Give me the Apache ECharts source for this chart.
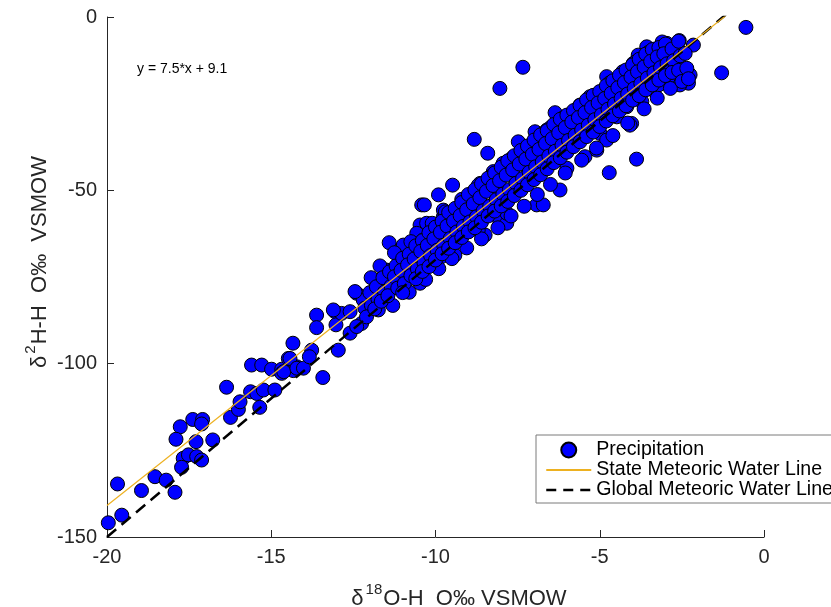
<!DOCTYPE html>
<html>
<head>
<meta charset="utf-8">
<script src="https://cdn.jsdelivr.net/npm/echarts@6/dist/echarts.min.js"></script>
<style>
  html, body { margin: 0; padding: 0; background: #fff; }
  #chart { width: 831px; height: 607px; }
</style>
</head>
<body>
<div id="chart"></div>
<script>
// Precipitation samples: [δ18O, δ2H] in ‰ VSMOW
const precipitation = [
  // most depleted samples
  [-19.96,-145.9],[-19.55,-143.7],[-19.68,-134.7],[-18.95,-136.6],[-18.54,-132.6],[-18.2,-133.6],
  [-17.93,-137.1],[-17.77,-118.2],[-17.9,-121.8],[-17.39,-116.1],[-17.09,-116.1],[-17.12,-117.4],
  [-17.29,-122.5],[-16.78,-122.0],[-17.68,-127.3],[-17.52,-126.3],[-17.27,-126.8],[-17.12,-127.8],
  [-17.73,-129.9],[-16.36,-106.8],[-16.24,-115.5],[-16.0,-113.2],[-15.95,-111.0],[-15.63,-108.1],
  [-15.44,-108.6],[-15.24,-107.6],[-14.89,-107.6],[-15.35,-112.6],[-15.6,-100.4],[-15.29,-100.4],
  [-14.99,-101.6],[-14.68,-101.6],[-14.68,-102.8],[-14.34,-94.1],[-14.48,-98.5],[-14.33,-102.0],
  [-14.22,-100.9],
  // -15 to -10 ‰
  [-14.62,-102.3],[-14.43,-98.5],[-14.22,-101.3],[-14.02,-101.3],[-13.77,-96.1],[-13.84,-98.0],
  [-12.96,-96.1],[-13.43,-104.0],[-13.62,-86.0],[-13.62,-89.6],[-13.06,-85.0],[-13.03,-88.8],
  [-12.86,-85.5],[-13.11,-84.5],[-12.60,-91.2],[-12.60,-85.0],[-12.40,-79.7],[-12.20,-81.6],
  [-12.15,-84.0],[-11.89,-83.1],[-11.74,-84.5],[-12.25,-88.4],[-12.40,-89.3],[-12.45,-79.2],
  [-11.96,-75.2],[-11.49,-73.0],[-11.54,-75.4],[-11.39,-75.9],[-11.18,-76.3],[-11.49,-78.7],
  [-11.64,-80.2],[-10.9,-78.7],[-10.52,-75.9],[-10.73,-74.4],[-11.03,-71.5],[-11.13,-68.7],
  [-10.83,-65.8],[-11.41,-65.1],[-10.57,-66.7],[-10.27,-70.1],[-10.47,-63.4],[-10.47,-60.0],
  [-9.96,-66.3],[-9.86,-64.3],[-9.76,-57.6],[-10.42,-54.2],[-11.69,-71.8],[-11.08,-67.2],
  // -11 to -6 ‰
  [-8.82,-35.3],[-8.41,-39.3],[-9.48,-48.5],[-9.91,-51.3],[-10.34,-54.2],[-7.48,-36.0],
  [-6.36,-27.6],[-6.21,-49.9],[-6.92,-54.2],[-6.72,-54.2],[-8.04,-59.0],[-8.49,-62.9],
  [-9.41,-68.7],[-9.81,-69.1],[-10.22,-70.6],[-10.88,-79.2],[-10.47,-76.8],[-11.08,-74.9],
  [-11.54,-76.8],[-7.63,-51.3],[-7.83,-59.5],[-6.92,-45.1],[-6.77,-36.9],[-7.53,-41.2],
  [-7.07,-38.9],[-8.24,-44.6],[-8.64,-48.0],[-9.05,-52.3],[-9.35,-56.6],[-9.76,-55.7],
  [-10.27,-59.5],[-10.57,-62.4],[-10.98,-65.8],[-10.37,-64.3],[-9.91,-62.4],[-9.46,-60.5],
  [-8.95,-58.6],[-8.85,-54.7],[-8.14,-50.9],[-7.94,-42.2],[-7.23,-46.1],[-5.85,-31.2],
  [-6.0,-43.6],[-8.7,-61.5],[-9.25,-64.3],[-6.97,-33.1],[-6.72,-33.6],[-5.75,-30.7],
  // most enriched samples
  [-7.34,-14.5],[-8.04,-20.6],[-3.88,-41.0],[-4.71,-44.9],[-5.45,-40.3],[-5.09,-38.4],
  [-4.79,-17.2],[-3.98,-13.4],[-3.57,-8.6],[-2.96,-7.6],[-4.03,-30.7],[-3.72,-24.4],
  [-3.37,-21.1],[-2.91,-18.7],[-5.6,-25.4],[-5.30,-23.0],[-4.69,-21.1],[-4.38,-19.1],
  [-5.70,-29.7],[-6.00,-32.6],[-6.61,-32.6],[-7.68,-40.8],[-4.99,-33.6],[-4.48,-28.8],
  [-4.18,-25.9],[-6.21,-38.4],[-6.82,-39.3],[-6.51,-42.2],[-7.43,-47.0],[-7.02,-45.1],
  [-7.83,-56.6],[-0.55,-3.0],[-1.29,-16.1],[-2.58,-6.8],[-2.15,-8.1],[-3.83,-11.0],
  [-3.37,-9.3],[-2.30,-19.1],[-2.25,-16.7],[-2.56,-19.6],[-3.21,-19.6],[-4.08,-31.2],
  [-2.66,-12.4],[-2.96,-13.8],[-4.38,-23.9],[-4.79,-35.5],
  // upper fringe of the cloud
  [-11.25,-68.0],[-10.75,-64.8],[-10.1,-59.5],[-9.7,-56.2],[-9.2,-52.6],[-8.7,-48.6],
  [-8.3,-45.9],[-7.75,-41.8],[-7.3,-38.2],[-6.9,-35.4],[-6.5,-31.9],[-6.1,-29.0],
  [-5.65,-26.1],[-5.2,-22.8],[-4.7,-19.0],[-4.3,-15.8],[-3.9,-12.9],[-3.5,-10.1],
  [-3.1,-7.2],
  // lower fringe of the cloud
  [-11.3,-83.2],[-10.8,-79.4],[-10.3,-75.7],[-9.9,-72.6],[-9.5,-69.7],[-9.05,-66.6],
  [-8.6,-64.0],[-8.1,-60.8],[-7.7,-57.4],[-7.3,-54.6],[-6.9,-51.2],[-6.5,-48.3],
  [-6.05,-45.0],[-5.55,-41.3],[-5.1,-37.8],[-4.6,-34.2],[-4.15,-30.6],[-3.65,-26.5],
  [-3.25,-23.4],[-2.85,-20.6],
  // dense core of the cloud
  [-12.0,-79.5],[-11.95,-83.2],[-12.1,-86.5],[-11.8,-77.8],[-11.75,-81.5],[-11.85,-84.2],
  [-11.6,-75.2],[-11.55,-79.3],[-11.65,-82.0],[-11.4,-73.5],[-11.35,-77.6],[-11.45,-80.4],
  [-11.2,-71.8],[-11.25,-74.9],[-11.15,-78.2],[-11.0,-69.6],[-11.05,-73.1],[-10.95,-76.9],
  [-11.0,-79.5],[-10.8,-68.4],[-10.85,-71.5],[-10.75,-74.6],[-10.6,-66.0],[-10.65,-69.8],
  [-10.55,-72.7],[-10.6,-75.5],[-10.4,-64.5],[-10.45,-67.6],[-10.35,-71.0],[-10.4,-73.4],
  [-10.2,-62.2],[-10.25,-65.9],[-10.15,-68.8],[-10.2,-72.0],[-10.0,-60.6],[-10.05,-64.0],
  [-9.95,-67.3],[-10.0,-70.1],[-9.8,-58.9],[-9.85,-62.1],[-9.75,-65.8],[-9.8,-68.3],
  [-9.6,-56.4],[-9.65,-60.3],[-9.55,-63.9],[-9.6,-66.7],[-9.4,-55.2],[-9.45,-58.9],
  [-9.35,-62.0],[-9.4,-65.1],[-9.2,-53.5],[-9.25,-57.3],[-9.15,-60.4],[-9.2,-63.6],
  [-9.0,-51.2],[-9.05,-55.6],[-8.95,-59.1],[-9.0,-62.0],[-8.8,-49.8],[-8.85,-53.9],
  [-8.75,-57.6],[-8.8,-60.8],[-8.6,-48.1],[-8.65,-52.1],[-8.55,-55.9],[-8.6,-59.2],
  [-8.4,-46.5],[-8.45,-50.3],[-8.35,-54.6],[-8.4,-57.4],[-8.2,-45.0],[-8.25,-48.6],
  [-8.15,-52.7],[-8.2,-56.0],[-8.0,-43.3],[-8.05,-47.2],[-7.95,-51.1],[-8.0,-54.5],
  [-7.8,-41.5],[-7.85,-45.6],[-7.75,-49.8],[-7.8,-53.2],[-7.6,-40.0],[-7.65,-44.1],
  [-7.55,-48.0],[-7.6,-51.5],[-7.4,-38.5],[-7.45,-42.4],[-7.35,-46.6],[-7.4,-50.0],
  [-7.2,-37.2],[-7.25,-41.0],[-7.15,-44.8],[-7.2,-48.4],[-7.0,-35.5],[-7.05,-39.6],
  [-6.95,-43.2],[-7.0,-46.9],[-6.8,-34.0],[-6.85,-38.2],[-6.75,-41.8],[-6.8,-45.5],
  [-6.6,-32.8],[-6.65,-36.5],[-6.55,-40.1],[-6.6,-43.8],[-6.4,-31.0],[-6.45,-35.1],
  [-6.35,-38.7],[-6.4,-42.0],[-6.2,-29.5],[-6.25,-33.4],[-6.15,-37.0],[-6.2,-40.6],
  [-6.0,-28.3],[-6.05,-31.9],[-5.95,-35.6],[-6.0,-39.0],[-5.8,-27.0],[-5.85,-30.3],
  [-5.75,-34.1],[-5.8,-37.4],[-5.6,-25.5],[-5.65,-29.0],[-5.55,-32.6],[-5.6,-36.0],
  [-5.4,-23.9],[-5.45,-27.6],[-5.35,-31.2],[-5.4,-34.5],[-5.2,-22.6],[-5.25,-26.1],
  [-5.15,-29.6],[-5.2,-33.2],[-5.0,-21.5],[-5.05,-24.8],[-4.95,-28.2],[-5.0,-31.6],
  [-4.8,-19.8],[-4.85,-23.5],[-4.75,-26.6],[-4.8,-30.0],[-4.6,-18.4],[-4.65,-22.0],
  [-4.55,-25.1],[-4.6,-28.5],[-4.4,-16.8],[-4.45,-20.4],[-4.35,-23.5],[-4.4,-27.1],
  [-4.2,-15.3],[-4.25,-18.9],[-4.15,-22.2],[-4.2,-25.6],[-4.0,-13.8],[-4.05,-17.3],
  [-3.95,-20.6],[-4.0,-24.0],[-3.8,-12.2],[-3.85,-15.8],[-3.75,-19.2],[-3.8,-22.7],
  [-3.6,-10.7],[-3.65,-14.4],[-3.55,-17.6],[-3.6,-21.0],[-3.4,-9.4],[-3.45,-12.8],
  [-3.35,-16.1],[-3.4,-19.6],[-3.2,-8.8],[-3.25,-11.5],[-3.15,-14.6],[-3.2,-18.2],
  [-3.0,-7.8],[-3.05,-10.6],[-2.95,-13.5],[-3.0,-16.9],[-2.8,-9.2],[-2.75,-12.6],
  [-2.8,-16.0],[-2.6,-7.0],[-2.55,-11.2],[-2.6,-15.4],[-2.5,-18.6],[-2.4,-10.5],
  [-2.35,-14.8],[-2.3,-17.8]
];

// State Meteoric Water Line: y = 7.5*x + 9.1 (end points)
const smwlX = [-20, 0];
const smwlY = [-140.9, 9.1];
// Global Meteoric Water Line: y = 8*x + 10 (end points)
const gmwlX = [-20, 0];
const gmwlY = [-150, 10];

const xTicks = [-20, -15, -10, -5, 0];
const yTicks = [-150, -100, -50, 0];

const seriesNames = ['Precipitation', 'State Meteoric Water Line', 'Global Meteoric Water Line'];
const equationText = 'y = 7.5*x + 9.1';

const FONT = '"Liberation Sans", Arial, Helvetica, sans-serif';
const INK = '#262626';
const SMWL_COLOR = '#EDB120';

const chart = echarts.init(document.getElementById('chart'), null, { renderer: 'canvas' });

const axisCommon = {
  axisLine: { show: true, onZero: false, lineStyle: { color: INK, width: 1 } },
  axisTick: { show: true, inside: true, length: 7, lineStyle: { color: INK, width: 1 } },
  splitLine: { show: false },
  axisLabel: { color: INK, fontSize: 20, fontFamily: FONT, margin: 10 }
};

const titleRich = {
  d: { fontSize: 22, fontFamily: FONT, fill: INK, lineHeight: 28, verticalAlign: 'bottom' },
  s: { fontSize: 15, fontFamily: FONT, fill: INK, lineHeight: 28, verticalAlign: 'top', padding: [0, 1, 0, 2] },
  n: { fontSize: 22, fontFamily: FONT, fill: INK, lineHeight: 28, verticalAlign: 'bottom' }
};

chart.setOption({
  animation: false,
  backgroundColor: '#fff',
  grid: { left: 107, right: 67, top: 17, bottom: 70, containLabel: false },
  xAxis: Object.assign({
    type: 'value',
    min: xTicks[0],
    max: xTicks[xTicks.length - 1],
    interval: 5
  }, axisCommon),
  yAxis: Object.assign({
    type: 'value',
    min: yTicks[0],
    max: yTicks[yTicks.length - 1],
    interval: 50
  }, axisCommon),
  legend: {
    orient: 'vertical',
    left: 536,
    top: 435,
    padding: [5, 6, 3, 9],
    itemGap: 0,
    itemWidth: 45,
    itemHeight: 15,
    backgroundColor: '#fff',
    borderColor: '#7a7a7a',
    borderWidth: 1,
    borderRadius: 0,
    selectedMode: false,
    lineStyle: { width: 2 },
    textStyle: { fontSize: 19.6, fontFamily: FONT, color: '#000', lineHeight: 20 },
    data: [
      { name: seriesNames[0] },
      { name: seriesNames[1], itemStyle: { opacity: 0 }, lineStyle: { width: 2 } },
      { name: seriesNames[2], itemStyle: { opacity: 0 }, lineStyle: { width: 2.5, type: [10, 7] } }
    ]
  },
  graphic: [
    {
      type: 'text',
      left: 137,
      top: 62,
      style: { text: equationText, font: '14px ' + FONT, fill: '#000' }
    },
    {
      type: 'text',
      x: 459,
      y: 596,
      style: {
        text: '{d|δ}{s|18}{n|O-H  O‰ VSMOW}',
        align: 'center',
        verticalAlign: 'middle',
        rich: titleRich
      }
    },
    {
      type: 'text',
      x: 37,
      y: 262,
      rotation: Math.PI / 2,
      style: {
        text: '{d|δ}{s|2}{n|H-H  O‰  VSMOW}',
        align: 'center',
        verticalAlign: 'middle',
        rich: titleRich
      }
    }
  ],
  series: [
    {
      name: seriesNames[0],
      type: 'scatter',
      data: precipitation,
      symbol: 'circle',
      symbolSize: 14,
      itemStyle: { color: '#0000FF', borderColor: '#000', borderWidth: 1, opacity: 1 },
      emphasis: { disabled: true }
    },
    {
      name: seriesNames[2],
      type: 'line',
      data: gmwlX.map((x, i) => [x, gmwlY[i]]),
      symbol: 'none',
      clip: true,
      lineStyle: { color: '#000', width: 2.5, type: [12, 7] },
      itemStyle: { color: '#000' },
      emphasis: { disabled: true }
    },
    {
      name: seriesNames[1],
      type: 'line',
      data: smwlX.map((x, i) => [x, smwlY[i]]),
      symbol: 'none',
      clip: true,
      lineStyle: { color: SMWL_COLOR, width: 1.2 },
      itemStyle: { color: SMWL_COLOR },
      emphasis: { disabled: true }
    }
  ]
});
</script>
</body>
</html>
